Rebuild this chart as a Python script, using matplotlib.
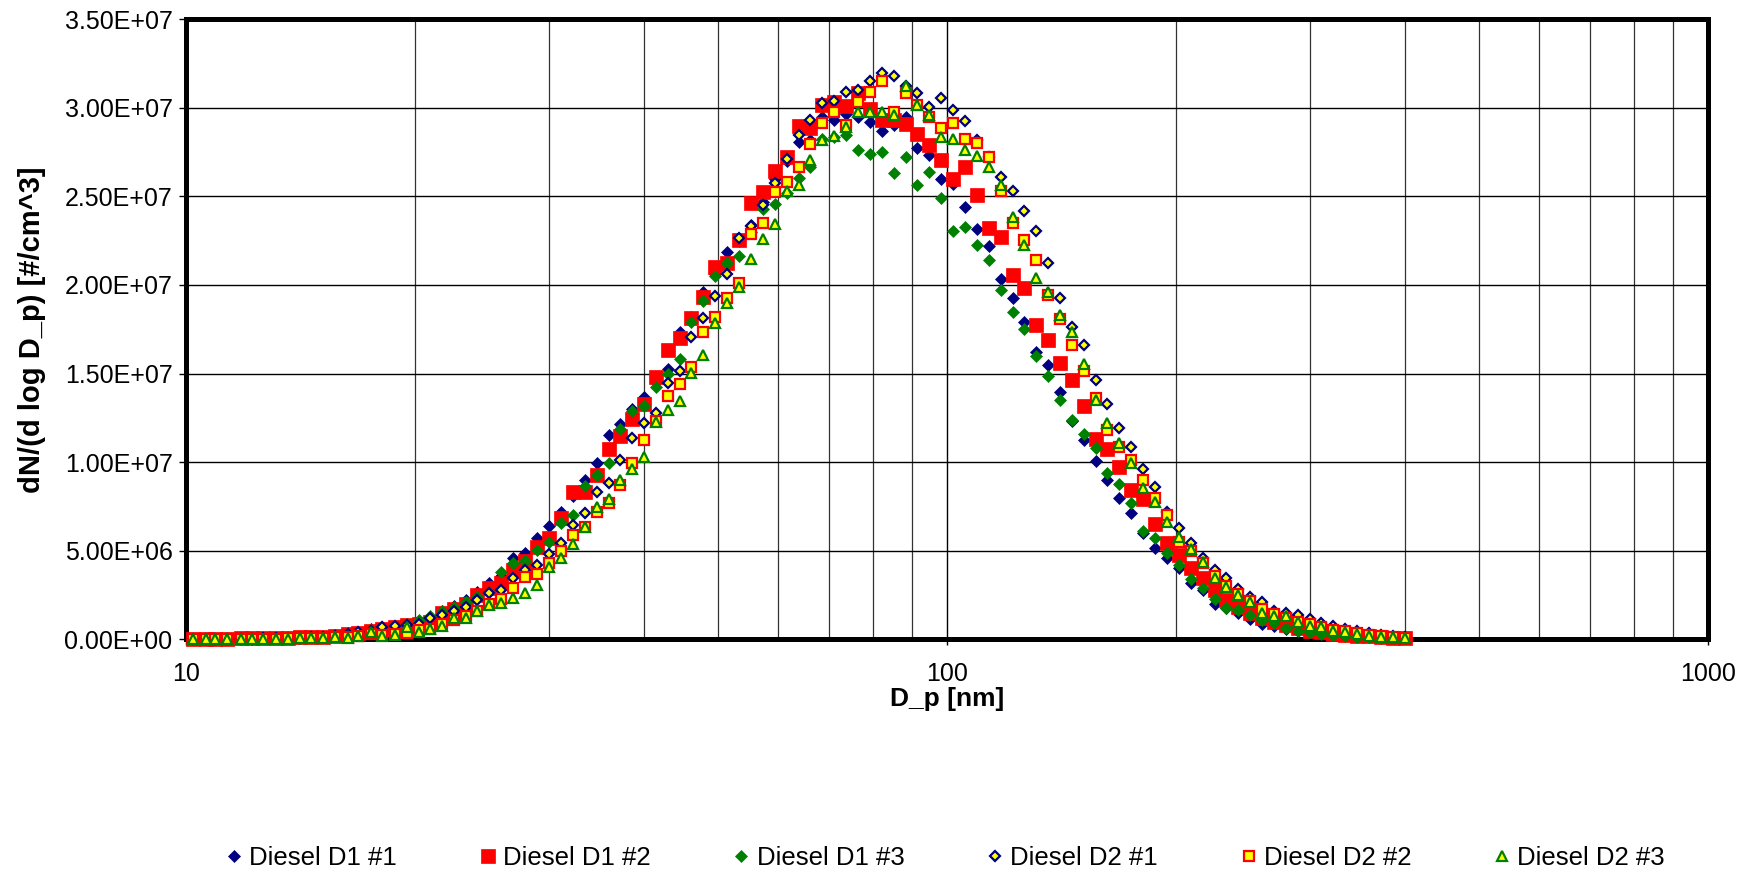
import matplotlib
matplotlib.use('Agg')
import matplotlib.pyplot as plt
import numpy as np
from matplotlib.ticker import FixedLocator, NullFormatter

plt.rcParams['font.family'] = ['Liberation Sans', 'DejaVu Sans']

# particle diameter [nm], SMPS channels
diam = [10.2, 10.6, 10.9, 11.3, 11.8, 12.2, 12.6, 13.1, 13.6, 14.1,
        14.6, 15.1, 15.7, 16.3, 16.8, 17.5, 18.1, 18.8, 19.5, 20.2,
        20.9, 21.7, 22.5, 23.3, 24.1, 25.0, 25.9, 26.9, 27.9, 28.9,
        30.0, 31.1, 32.2, 33.4, 34.6, 35.9, 37.2, 38.5, 40.0, 41.4,
        42.9, 44.5, 46.1, 47.8, 49.6, 51.4, 53.3, 55.2, 57.3, 59.4,
        61.5, 63.8, 66.1, 68.5, 71.0, 73.7, 76.4, 79.1, 82.0, 85.1,
        88.2, 91.4, 94.7, 98.2, 101.8, 105.5, 109.4, 113.4, 117.6, 121.9,
        126.3, 131.0, 135.8, 140.7, 145.9, 151.2, 156.8, 162.5, 168.5, 174.7,
        181.1, 187.7, 194.6, 201.7, 209.1, 216.7, 224.7, 232.9, 241.4, 250.3,
        259.5, 269.0, 278.8, 289.0, 299.6, 310.6, 322.0, 333.8, 346.0, 358.7,
        371.8, 385.4, 399.5]

# dN/dlogDp in units of 1e7 #/cm^3
d1_1 = [0.003, 0.003, 0.004, 0.004, 0.005, 0.006, 0.007, 0.008, 0.009, 0.011,
        0.013, 0.016, 0.025, 0.035, 0.040, 0.060, 0.068, 0.076, 0.085, 0.100,
        0.119, 0.160, 0.190, 0.224, 0.270, 0.316, 0.360, 0.457, 0.486, 0.570,
        0.640, 0.720, 0.810, 0.900, 0.993, 1.153, 1.213, 1.300, 1.370, 1.450,
        1.523, 1.736, 1.820, 1.961, 2.060, 2.187, 2.250, 2.337, 2.469, 2.600,
        2.700, 2.807, 2.817, 2.950, 2.930, 2.967, 2.948, 2.920, 2.870, 2.900,
        2.948, 2.770, 2.732, 2.600, 2.569, 2.440, 2.318, 2.219, 2.031, 1.924,
        1.793, 1.620, 1.548, 1.398, 1.230, 1.128, 1.007, 0.900, 0.797, 0.712,
        0.600, 0.514, 0.458, 0.402, 0.317, 0.279, 0.200, 0.175, 0.150, 0.115,
        0.088, 0.075, 0.060, 0.050, 0.040, 0.032, 0.025, 0.020, 0.015, 0.012,
        0.010, 0.008, 0.006]

d1_2 = [0.004, 0.004, 0.005, 0.005, 0.006, 0.007, 0.008, 0.009, 0.010, 0.012,
        0.014, 0.016, 0.020, 0.030, 0.035, 0.050, 0.060, 0.070, 0.080, 0.090,
        0.100, 0.147, 0.170, 0.200, 0.250, 0.290, 0.316, 0.390, 0.440, 0.523,
        0.570, 0.683, 0.833, 0.833, 0.927, 1.077, 1.150, 1.241, 1.331, 1.482,
        1.632, 1.698, 1.811, 1.933, 2.102, 2.121, 2.253, 2.463, 2.525, 2.644,
        2.723, 2.896, 2.883, 3.014, 3.030, 3.010, 3.080, 2.990, 2.930, 2.930,
        2.910, 2.854, 2.789, 2.704, 2.600, 2.663, 2.507, 2.319, 2.272, 2.055,
        1.980, 1.774, 1.690, 1.558, 1.464, 1.316, 1.130, 1.072, 0.973, 0.843,
        0.790, 0.650, 0.543, 0.477, 0.402, 0.345, 0.279, 0.223, 0.185, 0.148,
        0.120, 0.101, 0.082, 0.063, 0.050, 0.040, 0.033, 0.027, 0.022, 0.017,
        0.013, 0.010, 0.008]

d1_3 = [0.003, 0.003, 0.004, 0.004, 0.005, 0.005, 0.006, 0.007, 0.008, 0.010,
        0.012, 0.015, 0.020, 0.025, 0.035, 0.053, 0.060, 0.070, 0.090, 0.110,
        0.130, 0.160, 0.185, 0.210, 0.240, 0.270, 0.382, 0.429, 0.440, 0.504,
        0.551, 0.655, 0.702, 0.865, 0.927, 0.993, 1.187, 1.290, 1.316, 1.422,
        1.500, 1.580, 1.792, 1.911, 2.050, 2.125, 2.163, 2.300, 2.426, 2.456,
        2.520, 2.601, 2.663, 2.826, 2.836, 2.845, 2.764, 2.738, 2.751, 2.629,
        2.719, 2.563, 2.638, 2.493, 2.305, 2.328, 2.225, 2.140, 1.971, 1.849,
        1.750, 1.599, 1.486, 1.353, 1.240, 1.158, 1.080, 0.940, 0.877, 0.770,
        0.614, 0.575, 0.490, 0.420, 0.340, 0.289, 0.227, 0.176, 0.168, 0.138,
        0.110, 0.091, 0.063, 0.050, 0.040, 0.032, 0.025, 0.020, 0.015, 0.012,
        0.010, 0.008, 0.006]

d2_1 = [0.003, 0.003, 0.004, 0.004, 0.005, 0.005, 0.006, 0.007, 0.008, 0.010,
        0.012, 0.015, 0.020, 0.030, 0.040, 0.050, 0.070, 0.076, 0.080, 0.090,
        0.120, 0.140, 0.160, 0.185, 0.220, 0.260, 0.279, 0.344, 0.390, 0.420,
        0.480, 0.546, 0.645, 0.715, 0.833, 0.884, 1.012, 1.134, 1.222, 1.275,
        1.448, 1.516, 1.708, 1.811, 1.937, 2.061, 2.262, 2.330, 2.450, 2.576,
        2.713, 2.845, 2.930, 3.024, 3.040, 3.086, 3.100, 3.150, 3.193, 3.178,
        3.120, 3.080, 3.005, 3.056, 2.986, 2.924, 2.820, 2.720, 2.610, 2.530,
        2.418, 2.307, 2.125, 1.925, 1.765, 1.661, 1.466, 1.329, 1.193, 1.083,
        0.961, 0.860, 0.721, 0.627, 0.543, 0.460, 0.392, 0.349, 0.286, 0.237,
        0.209, 0.163, 0.148, 0.136, 0.114, 0.095, 0.075, 0.060, 0.045, 0.035,
        0.025, 0.020, 0.012]

d2_2 = [0.003, 0.003, 0.003, 0.004, 0.004, 0.004, 0.005, 0.005, 0.006, 0.007,
        0.008, 0.009, 0.012, 0.015, 0.020, 0.030, 0.028, 0.032, 0.035, 0.053,
        0.060, 0.090, 0.110, 0.132, 0.160, 0.200, 0.226, 0.292, 0.354, 0.367,
        0.429, 0.500, 0.589, 0.636, 0.720, 0.770, 0.870, 0.993, 1.128, 1.234,
        1.373, 1.441, 1.538, 1.736, 1.820, 1.924, 2.012, 2.287, 2.350, 2.525,
        2.582, 2.666, 2.794, 2.911, 2.977, 2.900, 3.033, 3.090, 3.151, 2.975,
        3.085, 3.014, 2.945, 2.886, 2.915, 2.826, 2.798, 2.723, 2.531, 2.350,
        2.253, 2.140, 1.943, 1.806, 1.661, 1.514, 1.360, 1.180, 1.088, 1.010,
        0.902, 0.800, 0.700, 0.552, 0.500, 0.430, 0.360, 0.300, 0.255, 0.215,
        0.170, 0.145, 0.120, 0.100, 0.085, 0.070, 0.055, 0.045, 0.035, 0.025,
        0.020, 0.015, 0.010]

d2_3 = [0.002, 0.002, 0.003, 0.003, 0.003, 0.004, 0.004, 0.005, 0.005, 0.006,
        0.007, 0.008, 0.016, 0.010, 0.020, 0.044, 0.018, 0.025, 0.069, 0.044,
        0.057, 0.075, 0.120, 0.120, 0.160, 0.194, 0.203, 0.235, 0.264, 0.310,
        0.410, 0.457, 0.540, 0.636, 0.749, 0.792, 0.900, 0.959, 1.030, 1.228,
        1.294, 1.347, 1.501, 1.604, 1.787, 1.900, 1.986, 2.144, 2.257, 2.341,
        2.531, 2.563, 2.704, 2.820, 2.840, 2.890, 2.975, 2.977, 2.977, 2.958,
        3.120, 3.014, 2.958, 2.836, 2.823, 2.764, 2.728, 2.663, 2.563, 2.384,
        2.225, 2.037, 1.961, 1.830, 1.737, 1.556, 1.351, 1.220, 1.110, 0.998,
        0.856, 0.778, 0.665, 0.580, 0.509, 0.439, 0.345, 0.294, 0.251, 0.210,
        0.150, 0.133, 0.135, 0.098, 0.077, 0.071, 0.049, 0.041, 0.033, 0.018,
        0.016, 0.014, 0.008]

scale = 1e7
labels = ['Diesel D1 #1', 'Diesel D1 #2', 'Diesel D1 #3',
          'Diesel D2 #1', 'Diesel D2 #2', 'Diesel D2 #3']
y_ticks = [0, 5e6, 1e7, 1.5e7, 2e7, 2.5e7, 3e7, 3.5e7]

navy = '#000080'
red = '#FF0000'
green = '#008000'
yellow = '#FFFF00'

fig = plt.figure(figsize=(17.41, 8.73), dpi=100)
ax = fig.add_axes([0.1071, 0.2675, 0.8738, 0.7107])

styles = [
    dict(marker='D', markersize=6.2, markerfacecolor=navy, markeredgecolor=navy, markeredgewidth=0.5),
    dict(marker='s', markersize=10.5, markerfacecolor=red, markeredgecolor=red, markeredgewidth=0.5),
    dict(marker='D', markersize=6.2, markerfacecolor=green, markeredgecolor=green, markeredgewidth=0.5),
    dict(marker='D', markersize=5.2, markerfacecolor=yellow, markeredgecolor=navy, markeredgewidth=1.6),
    dict(marker='s', markersize=7.0, markerfacecolor=yellow, markeredgecolor=red, markeredgewidth=1.6),
    dict(marker='^', markersize=7.5, markerfacecolor=yellow, markeredgecolor=green, markeredgewidth=1.6),
]
series = [d1_1, d1_2, d1_3, d2_1, d2_2, d2_3]

for vals, lab, st in zip(series, labels, styles):
    ax.plot(diam, np.array(vals) * scale, linestyle='none', label=lab,
            clip_on=False, zorder=4, **st)

ax.set_xscale('log')
ax.set_xlim(10, 1000)
ax.set_ylim(0, 3.5e7)
ax.set_yticks(y_ticks)
ax.set_yticklabels(['{:.2E}'.format(v) for v in y_ticks])
ax.set_xticks([10, 100, 1000])
ax.set_xticklabels(['10', '100', '1000'])
ax.xaxis.set_minor_locator(FixedLocator([k * d for d in (10, 100) for k in range(2, 10)]))
ax.xaxis.set_minor_formatter(NullFormatter())

ax.grid(True, which='major', color='black', linewidth=1.0)
ax.grid(True, which='minor', axis='x', color='#333333', linewidth=0.9)
ax.set_axisbelow(True)

for s in ax.spines.values():
    s.set_linewidth(3.6)
    s.set_color('black')
    s.set_zorder(3)

ax.tick_params(axis='y', which='major', direction='out', length=5, width=1, pad=5, labelsize=18)
ax.tick_params(axis='x', which='major', direction='out', length=4, width=1, pad=12, labelsize=18)
ax.tick_params(axis='x', which='minor', length=0)

ax.set_xlabel('D_p [nm]', fontsize=19, fontweight='bold')
ax.set_ylabel('dN/(d log D_p) [#/cm^3]', fontsize=21, fontweight='bold')
ax.xaxis.set_label_coords(0.5, -0.077, transform=ax.transAxes)
ax.xaxis.label.set_va('top')
ax.yaxis.set_label_coords(-0.0924, 0.5, transform=ax.transAxes)

fig.legend(loc='center', ncol=6, mode='expand', frameon=False,
           bbox_to_anchor=(0.1241, 0.0, 0.8382, 0.034),
           fontsize=18.5, handlelength=0.6, handletextpad=0.3,
           borderaxespad=0, numpoints=1)

fig.savefig('out.png', dpi=100)
